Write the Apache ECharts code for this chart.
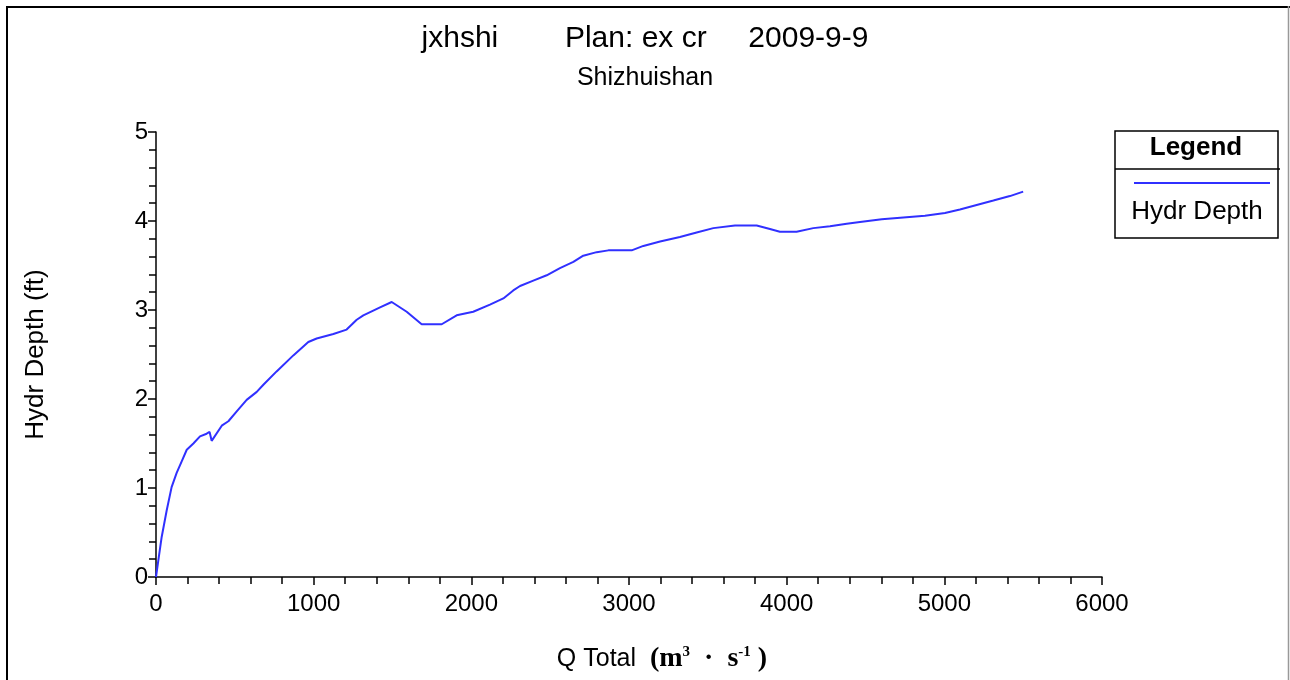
<!DOCTYPE html>
<html>
<head>
<meta charset="utf-8">
<script src="https://cdn.jsdelivr.net/npm/echarts@6/dist/echarts.min.js"></script>
<style>
html,body{margin:0;padding:0;background:#fff;}
#main{width:1290px;height:680px;}
</style>
</head>
<body>
<div id="main"></div>
<script>
const titleText = 'jxhshi        Plan: ex cr     2009-9-9';
const subtitleText = 'Shizhuishan';
const seriesName = 'Hydr Depth';
const xTicks = [0, 1000, 2000, 3000, 4000, 5000, 6000];
const yTicks = [0, 1, 2, 3, 4, 5];
const qTotal = [0, 15, 36, 68, 99, 131, 163, 195, 237, 279, 321, 340, 353, 417, 459, 512, 575, 639, 681, 765, 871, 966, 1019, 1125, 1209, 1273, 1315, 1421, 1495, 1590, 1685, 1812, 1907, 2012, 2118, 2203, 2266, 2309, 2393, 2478, 2562, 2647, 2710, 2795, 2869, 3017, 3091, 3197, 3323, 3429, 3535, 3672, 3810, 3894, 3957, 4063, 4169, 4275, 4381, 4465, 4603, 4740, 4877, 5004, 5099, 5205, 5311, 5416, 5500];
const hydrDepth = [0, 0.19, 0.45, 0.75, 1.01, 1.17, 1.30, 1.43, 1.50, 1.58, 1.61, 1.63, 1.53, 1.70, 1.75, 1.86, 1.99, 2.08, 2.16, 2.31, 2.49, 2.64, 2.68, 2.73, 2.78, 2.89, 2.94, 3.03, 3.09, 2.98, 2.84, 2.84, 2.94, 2.98, 3.06, 3.13, 3.22, 3.27, 3.33, 3.39, 3.47, 3.54, 3.61, 3.65, 3.67, 3.67, 3.72, 3.77, 3.82, 3.87, 3.92, 3.95, 3.95, 3.91, 3.88, 3.88, 3.92, 3.94, 3.97, 3.99, 4.02, 4.04, 4.06, 4.09, 4.13, 4.18, 4.23, 4.28, 4.33];

const data = qTotal.map((q, i) => [q, hydrDepth[i]]);
const font = '"Liberation Sans", Arial, sans-serif';
const serif = '"Liberation Serif", "Times New Roman", serif';
const lineColor = '#3030ff';

const chart = echarts.init(document.getElementById('main'), null, {renderer: 'canvas'});
chart.setOption({
  backgroundColor: '#ffffff',
  animation: false,
  title: [
    {text: titleText, left: 'center', top: 19, textStyle: {fontFamily: font, fontSize: 30, fontWeight: 'normal', color: '#000'}},
    {text: subtitleText, left: 'center', top: 61, textStyle: {fontFamily: font, fontSize: 25, fontWeight: 'normal', color: '#000'}}
  ],
  grid: {left: 156, right: 188, top: 132, bottom: 103, containLabel: false},
  legend: {
    data: [seriesName],
    left: 1129, top: 177,
    icon: 'rect', itemWidth: 136, itemHeight: 2,
    formatter: () => '',
    selectedMode: false,
    textStyle: {fontSize: 1}
  },
  xAxis: {
    type: 'value', min: xTicks[0], max: xTicks[xTicks.length - 1], interval: 1000,
    name: 'Q Total  {b|(m}{s|3}{b|  ·  s}{s|-1}{b| )}',
    nameLocation: 'middle', nameGap: 68,
    nameTextStyle: {
      fontFamily: font, fontSize: 25, color: '#000', padding: [0, 0, 0, 66],
      rich: {
        b: {fontFamily: serif, fontWeight: 'bold', fontSize: 28, color: '#000'},
        s: {fontFamily: serif, fontWeight: 'bold', fontSize: 15, color: '#000', verticalAlign: 'top', padding: [0, 0, 12, 0]}
      }
    },
    axisLine: {show: true, onZero: false, lineStyle: {color: '#000', width: 1.5}},
    axisTick: {show: true, inside: false, length: 8, lineStyle: {color: '#000', width: 1.5}},
    minorTick: {show: true, splitNumber: 5, length: 7, lineStyle: {color: '#000', width: 1.5}},
    axisLabel: {fontFamily: font, fontSize: 24, color: '#000', margin: 15, formatter: v => String(v)},
    splitLine: {show: false}
  },
  yAxis: {
    type: 'value', min: yTicks[0], max: yTicks[yTicks.length - 1], interval: 1,
    name: 'Hydr Depth (ft)', nameLocation: 'middle', nameGap: 107,
    nameTextStyle: {fontFamily: font, fontSize: 26, color: '#000'},
    axisLine: {show: true, onZero: false, lineStyle: {color: '#000', width: 1.5}},
    axisTick: {show: true, inside: false, length: 8, lineStyle: {color: '#000', width: 1.5}},
    minorTick: {show: true, splitNumber: 5, length: 7, lineStyle: {color: '#000', width: 1.5}},
    axisLabel: {fontFamily: font, fontSize: 24, color: '#000', margin: 8, formatter: v => String(v)},
    splitLine: {show: false}
  },
  series: [{
    name: seriesName, type: 'line', data: data,
    showSymbol: false, symbol: 'none',
    lineStyle: {color: lineColor, width: 2},
    itemStyle: {color: lineColor},
    clip: true
  }],
  graphic: [
    {type: 'line', shape: {x1: 6, y1: 7, x2: 1290, y2: 7}, style: {stroke: '#000', lineWidth: 2}},
    {type: 'line', shape: {x1: 7, y1: 6, x2: 7, y2: 680}, style: {stroke: '#000', lineWidth: 2}},
    {type: 'line', shape: {x1: 1288.5, y1: 6, x2: 1288.5, y2: 680}, style: {stroke: '#999', lineWidth: 1.5}},
    {type: 'rect', shape: {x: 1115, y: 131, width: 163, height: 107}, style: {fill: 'none', stroke: '#000', lineWidth: 1.5}},
    {type: 'line', shape: {x1: 1115, y1: 169, x2: 1280, y2: 169}, style: {stroke: '#000', lineWidth: 1.5}},
    {type: 'text', x: 1196, y: 148, style: {text: 'Legend', font: 'bold 26px "Liberation Sans", Arial, sans-serif', fill: '#000', textAlign: 'center', textVerticalAlign: 'middle'}},
    {type: 'text', x: 1197, y: 212, style: {text: seriesName, font: '26px "Liberation Sans", Arial, sans-serif', fill: '#000', textAlign: 'center', textVerticalAlign: 'middle'}}
  ]
});
</script>
</body>
</html>
